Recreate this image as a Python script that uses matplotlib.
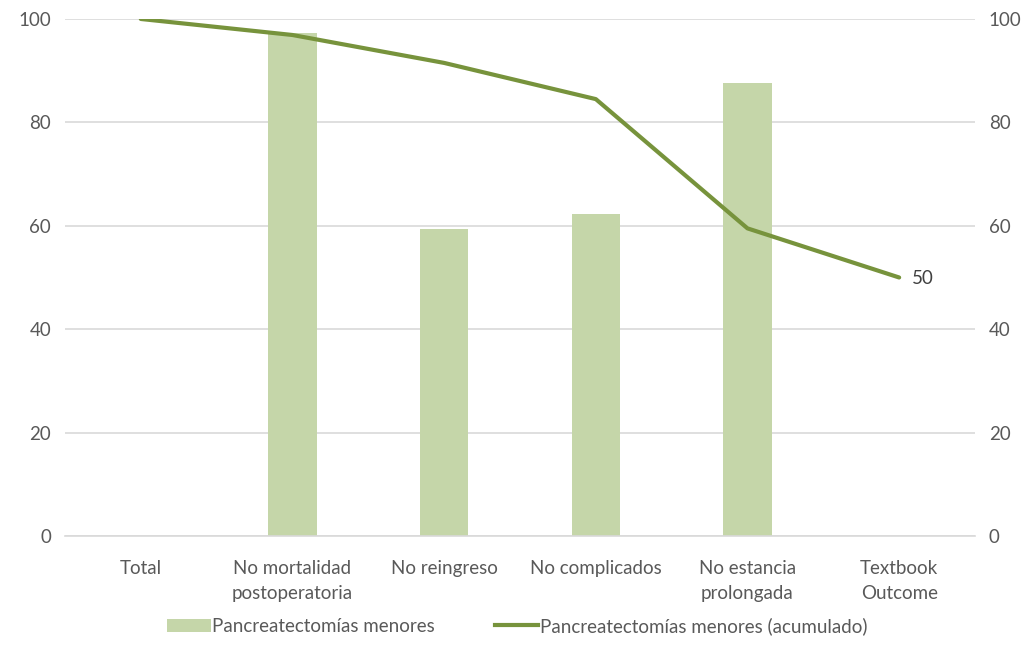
import matplotlib
matplotlib.use("Agg")
import matplotlib.pyplot as plt
from matplotlib.lines import Line2D
from matplotlib.patches import Patch
import numpy as np

plt.rcParams['font.family'] = ['Lato', 'DejaVu Sans']

categories = ["Total", "No mortalidad\npostoperatoria", "No reingreso", "No complicados",
              "No estancia\nprolongada", "Textbook\nOutcome"]
bar_values = [0, 97.2, 59.3, 62.3, 87.6, 0]
cumulative = [100, 96.9, 91.5, 84.5, 59.5, 50]
yticks = [0, 20, 40, 60, 80, 100]

bar_label = "Pancreatectomías menores"
line_label = "Pancreatectomías menores (acumulado)"

bar_color = "#C5D6A9"
line_color = "#77933C"
text_color = "#595959"
grid_color = "#D9D9D9"
fs = 13.5

fig = plt.figure(figsize=(10.35, 6.68), dpi=100)
ax = fig.add_axes([0.0628, 0.1976, 0.8792, 0.774])

x = np.arange(len(categories))
ax.bar(x, bar_values, width=0.32, color=bar_color, zorder=2)
ax.plot(x, cumulative, color=line_color, linewidth=3, zorder=3,
        solid_joinstyle="round", solid_capstyle="round")
ax.annotate(f"{cumulative[-1]:g}", (x[-1], cumulative[-1]), xytext=(9, -1),
            textcoords="offset points", va="center", ha="left",
            fontsize=fs, color="#404040")

ax.set_xlim(-0.5, len(categories) - 0.5)
ax.set_ylim(0, 100)
ax.set_yticks(yticks)
ax.set_xticks(x)
ax.set_xticklabels(categories, fontsize=fs, color=text_color, linespacing=1.62)
ax.tick_params(axis="y", labelsize=fs, labelcolor=text_color, length=0, pad=10)
ax.tick_params(axis="x", length=0, pad=17)
ax.grid(axis="y", color=grid_color, linewidth=1.2, zorder=0)
for s in ax.spines.values():
    s.set_visible(False)
ax.spines["bottom"].set_visible(True)
ax.spines["bottom"].set_color(grid_color)
ax.spines["bottom"].set_linewidth(1.2)

ax2 = ax.twinx()
ax2.set_ylim(0, 100)
ax2.set_yticks(yticks)
ax2.tick_params(axis="y", labelsize=fs, labelcolor=text_color, length=0, pad=10)
for s in ax2.spines.values():
    s.set_visible(False)

handles = [Patch(facecolor=bar_color, edgecolor="none"),
           Line2D([0], [0], color=line_color, linewidth=3)]
fig.legend(handles, [bar_label, line_label], loc="center", bbox_to_anchor=(0.5, 0.063),
           ncol=2, frameon=False, fontsize=fs, labelcolor=text_color,
           handlelength=2.3, handletextpad=0.1, columnspacing=3.2)

fig.savefig("out.png", dpi=100)
